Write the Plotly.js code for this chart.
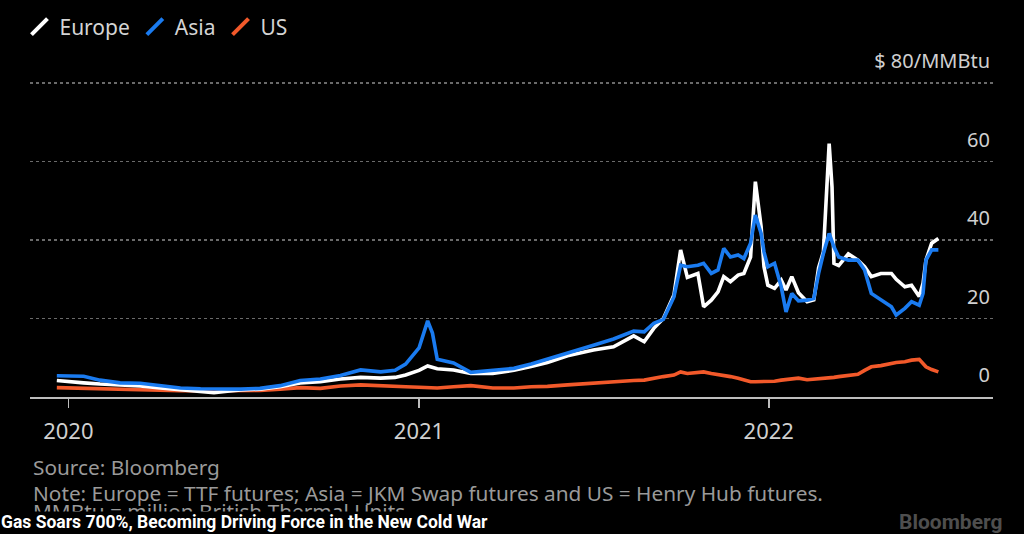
<!DOCTYPE html>
<html>
<head>
<meta charset="utf-8">
<script src="https://cdn.plot.ly/plotly-3.0.1.min.js"></script>
<style>
  html, body { margin: 0; padding: 0; background: #000; }
  #chart { width: 1024px; height: 534px; }
</style>
</head>
<body>
<div id="chart"></div>
<script>
// Dates (observation points)
const dates = [
  '2019-12-20','2020-01-03','2020-01-17','2020-02-03','2020-02-24','2020-03-16','2020-04-06','2020-04-27',
  '2020-05-18','2020-06-01','2020-06-15','2020-06-29','2020-07-19','2020-08-09','2020-08-30','2020-09-20',
  '2020-10-11','2020-11-01','2020-11-22','2020-12-07','2020-12-18','2021-01-01','2021-01-10','2021-01-15',
  '2021-01-20','2021-02-06','2021-02-24','2021-03-19','2021-04-10','2021-04-28','2021-05-15','2021-06-05',
  '2021-07-02','2021-07-23','2021-08-13','2021-08-24','2021-09-03','2021-09-13','2021-09-24','2021-10-01',
  '2021-10-08','2021-10-19','2021-10-25','2021-11-02','2021-11-09','2021-11-15','2021-11-22','2021-11-30',
  '2021-12-06','2021-12-13','2021-12-18','2021-12-24','2021-12-27','2021-12-31','2022-01-07','2022-01-14',
  '2022-01-19','2022-01-25','2022-02-01','2022-02-10','2022-02-17','2022-02-22','2022-02-27','2022-03-05',
  '2022-03-08','2022-03-10','2022-03-15','2022-03-25','2022-04-04','2022-04-11','2022-04-18','2022-04-28',
  '2022-05-09','2022-05-14','2022-05-23','2022-05-30','2022-06-07','2022-06-11','2022-06-14','2022-06-20',
  '2022-06-27'
];
// Europe = TTF futures ($/MMBtu)
const europe = [
  4.2, 4.0, 3.6, 3.3, 3.1, 2.8, 2.3, 1.9,
  1.5, 1.1, 1.5, 1.8, 2.0, 2.6, 3.6, 3.9,
  4.6, 5.0, 4.8, 5.0, 5.6, 6.8, 7.9, 7.5,
  7.2, 6.9, 6.0, 6.0, 6.8, 7.8, 8.8, 10.5,
  12.0, 12.8, 15.6, 14.1, 17.5, 20.0, 26.0, 37.5,
  30.5, 31.5, 23.0, 24.7, 26.8, 30.7, 29.4, 31.1,
  31.5, 35.7, 54.9, 43.4, 33.2, 28.5, 27.7, 29.8,
  27.3, 30.7, 26.6, 24.3, 24.8, 33.0, 37.0, 64.6,
  53.6, 34.1, 33.5, 36.5, 34.9, 33.2, 30.7, 31.5,
  31.5, 30.0, 28.1, 28.5, 25.6, 29.0, 34.9, 39.2,
  40.4
];
// Asia = JKM Swap futures ($/MMBtu)
const asia = [
  5.4, 5.4, 5.3, 4.3, 3.6, 3.5, 3.0, 2.3,
  2.1, 2.0, 2.0, 2.0, 2.2, 2.9, 4.2, 4.6,
  5.5, 6.9, 6.4, 6.8, 8.4, 12.5, 19.4, 16.3,
  9.6, 8.7, 6.3, 6.7, 7.3, 8.4, 9.6, 11.1,
  13.2, 14.8, 16.8, 16.6, 18.8, 19.8, 25.5, 33.6,
  33.2, 33.6, 34.1, 31.5, 32.4, 37.9, 35.7, 36.2,
  35.3, 39.2, 46.4, 41.7, 37.0, 33.2, 34.1, 28.1,
  21.7, 26.4, 24.5, 24.7, 25.1, 31.5, 36.6, 41.7,
  39.5, 38.3, 35.7, 34.9, 34.9, 32.4, 26.4, 24.7,
  23.0, 20.9, 22.6, 24.3, 23.4, 26.4, 34.9, 37.5,
  37.5
];
// US = Henry Hub futures ($/MMBtu)
const us = [
  2.4, 2.3, 2.2, 2.0, 1.9, 1.8, 1.7, 1.6,
  1.6, 1.6, 1.6, 1.6, 1.7, 2.0, 2.4, 2.2,
  2.8, 3.1, 2.8, 2.7, 2.6, 2.5, 2.5, 2.4,
  2.3, 2.6, 2.9, 2.3, 2.3, 2.6, 2.7, 3.1,
  3.6, 3.8, 4.2, 4.3, 4.8, 5.2, 5.6, 6.4,
  6.0, 6.2, 6.4, 6.0, 5.8, 5.4, 5.2, 4.8,
  4.3, 3.9, 3.9, 3.9, 3.9, 3.9, 4.0, 4.3,
  4.4, 4.7, 4.8, 4.4, 4.5, 4.7, 4.8, 4.8,
  4.9, 5.0, 5.2, 5.4, 5.8, 6.8, 7.7, 8.0,
  8.6, 8.8, 9.0, 9.4, 9.6, 8.5, 7.7, 7.0,
  6.4
];
const seriesNames = ['Europe', 'Asia', 'US'];
const seriesColors = ['#ffffff', '#1a7bf0', '#f2592a'];
const yTickVals = [0, 20, 40, 60, 80];
const yTickText = ['0', '20', '40', '60', '$ 80/MMBtu'];
const xTickVals = ['2020-01-01', '2021-01-01', '2022-01-01'];
const xTickText = ['2020', '2021', '2022'];

const seriesData = [europe, asia, us];
const traces = [];
const drawOrder = [2, 0, 1];
drawOrder.forEach(i => {
  traces.push({
    type: 'scatter', mode: 'lines', x: dates, y: seriesData[i], name: seriesNames[i],
    line: { color: seriesColors[i], width: 3.6, shape: 'linear' },
    showlegend: false, hoverinfo: 'skip'
  });
});
// legend-only entries with slanted icons
[0, 1, 2].forEach(i => {
  traces.push({
    type: 'scatter', mode: 'markers', x: [null], y: [null], name: seriesNames[i],
    marker: { symbol: 'line-ne', size: 16, color: seriesColors[i], line: { color: seriesColors[i], width: 4 } },
    showlegend: true, hoverinfo: 'skip'
  });
});

const FONT = 'Noto Sans, Open Sans, DejaVu Sans, sans-serif';
const layout = {
  width: 1024, height: 534,
  paper_bgcolor: '#000', plot_bgcolor: '#000',
  margin: { l: 30, r: 31, t: 44, b: 137, autoexpand: false },
  font: { family: FONT, color: '#cfcfcf' },
  showlegend: true,
  legend: {
    orientation: 'h', xref: 'container', yref: 'container',
    x: 0.019, xanchor: 'left', y: 0.988, yanchor: 'top',
    font: { family: FONT, size: 21, color: '#d4d4d4' },
    bgcolor: 'rgba(0,0,0,0)', itemwidth: 30, traceorder: 'normal'
  },
  xaxis: {
    type: 'date', range: ['2019-11-22', '2022-08-23'],
    tickmode: 'array', tickvals: xTickVals, ticktext: xTickText,
    ticks: 'outside', ticklen: 9, tickwidth: 1.5, tickcolor: '#bdbdbd',
    ticklabelstandoff: 5,
    showline: true, linecolor: '#bdbdbd', linewidth: 1.5,
    showgrid: false, zeroline: false,
    tickfont: { family: FONT, size: 22, color: '#d0d0d0' }
  },
  yaxis: {
    range: [0, 90], side: 'right',
    tickmode: 'array', tickvals: yTickVals, ticktext: yTickText,
    ticklabelposition: 'inside', ticklabelshift: -22, ticklabelstandoff: 0,
    ticks: '', showline: false, zeroline: false,
    showgrid: true, gridcolor: '#6a6a6a', gridwidth: 1.5, griddash: 'dot',
    tickfont: { family: FONT, size: 20, color: '#d0d0d0' }
  },
  annotations: [
    { text: 'Source: Bloomberg', xref: 'paper', yref: 'paper', x: 0.001, y: -0.1994,
      xanchor: 'left', yanchor: 'middle', showarrow: false,
      font: { family: FONT, size: 20.8, color: '#9a9a9a' } },
    { text: 'Note: Europe = TTF futures; Asia = JKM Swap futures and US = Henry Hub futures.', xref: 'paper', yref: 'paper', x: 0.001, y: -0.2717,
      xanchor: 'left', yanchor: 'middle', showarrow: false,
      font: { family: FONT, size: 20.8, color: '#9a9a9a' } },
    { text: 'MMBtu = million British Thermal Units', xref: 'paper', yref: 'paper', x: 0.001, y: -0.3229,
      xanchor: 'left', yanchor: 'middle', showarrow: false,
      font: { family: FONT, size: 20.8, color: '#9a9a9a' } },
    { text: '<b>Gas Soars 700%, Becoming Driving Force in the New Cold War</b>', xref: 'paper', yref: 'paper',
      x: -0.0312, y: -0.3555, xanchor: 'left', yanchor: 'middle', showarrow: false,
      bgcolor: '#000', borderpad: 0,
      font: { family: 'Liberation Sans Narrow, Roboto, sans-serif', size: 17.5, color: '#ffffff' } },
    { text: '<b>Bloomberg</b>', xref: 'paper', yref: 'paper', x: 1.012, y: -0.3555,
      xanchor: 'right', yanchor: 'middle', showarrow: false,
      font: { family: 'Roboto, Noto Sans, sans-serif', size: 21, color: '#4e4e4e' } }
  ]
};

Plotly.newPlot('chart', traces, layout, { staticPlot: true, displayModeBar: false });
</script>
</body>
</html>
